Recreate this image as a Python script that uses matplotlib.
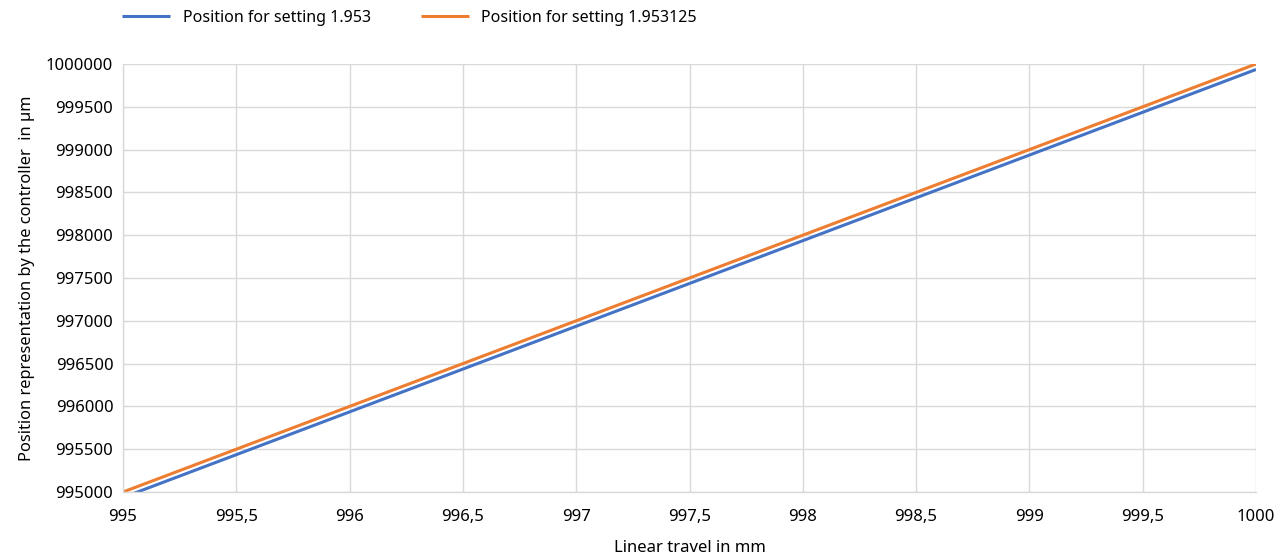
import matplotlib
matplotlib.use("Agg")
import matplotlib.pyplot as plt
from matplotlib.ticker import FuncFormatter, MultipleLocator

plt.rcParams['font.family'] = ['Noto Sans', 'DejaVu Sans']

# data
travel_mm = [995.0, 995.5, 996.0, 996.5, 997.0, 997.5, 998.0, 998.5, 999.0, 999.5, 1000.0]
pos_1953 = [994936, 995436, 995936, 996436, 996936, 997436, 997936, 998436, 998936, 999436, 999936]
pos_1953125 = [995000, 995500, 996000, 996500, 997000, 997500, 998000, 998500, 999000, 999500, 1000000]
series_labels = ['Position for setting 1.953', 'Position for setting 1.953125']

fig = plt.figure(figsize=(12.86, 5.59), dpi=100)
ax = fig.add_axes([123 / 1286, 1 - 492 / 559, (1256 - 123) / 1286, (492 - 64) / 559])

ax.plot(travel_mm, pos_1953, color='#4472C4', lw=2.2, label=series_labels[0], solid_capstyle='butt')
ax.plot(travel_mm, pos_1953125, color='#ED7D31', lw=2.2, label=series_labels[1], solid_capstyle='butt')

ax.set_xlim(995, 1000)
ax.set_ylim(995000, 1000000)
ax.xaxis.set_major_locator(MultipleLocator(0.5))
ax.yaxis.set_major_locator(MultipleLocator(500))
ax.xaxis.set_major_formatter(FuncFormatter(lambda v, p: ('%g' % v).replace('.', ',')))
ax.yaxis.set_major_formatter(FuncFormatter(lambda v, p: '%d' % v))

ax.grid(True, color='#D9D9D9', lw=1)
ax.set_axisbelow(True)
for s in ['top', 'right']:
    ax.spines[s].set_visible(False)
for s in ['left', 'bottom']:
    ax.spines[s].set_color('#D9D9D9')
    ax.spines[s].set_linewidth(1)
ax.tick_params(length=0, labelsize=12, colors='#000000', pad=7)
ax.tick_params(axis='x', pad=12)

ax.set_xlabel('Linear travel in mm', fontsize=12, labelpad=11)
ax.set_ylabel('Position representation by the controller  in µm', fontsize=11.8, labelpad=8)

ax.legend(loc='center left', bbox_to_anchor=(108 / 1286, 1 - 18 / 559), bbox_transform=fig.transFigure,
          ncol=2, frameon=False, fontsize=11.5, handlelength=3.0, columnspacing=3.1, handletextpad=0.8)

fig.savefig('out.png', dpi=100)
